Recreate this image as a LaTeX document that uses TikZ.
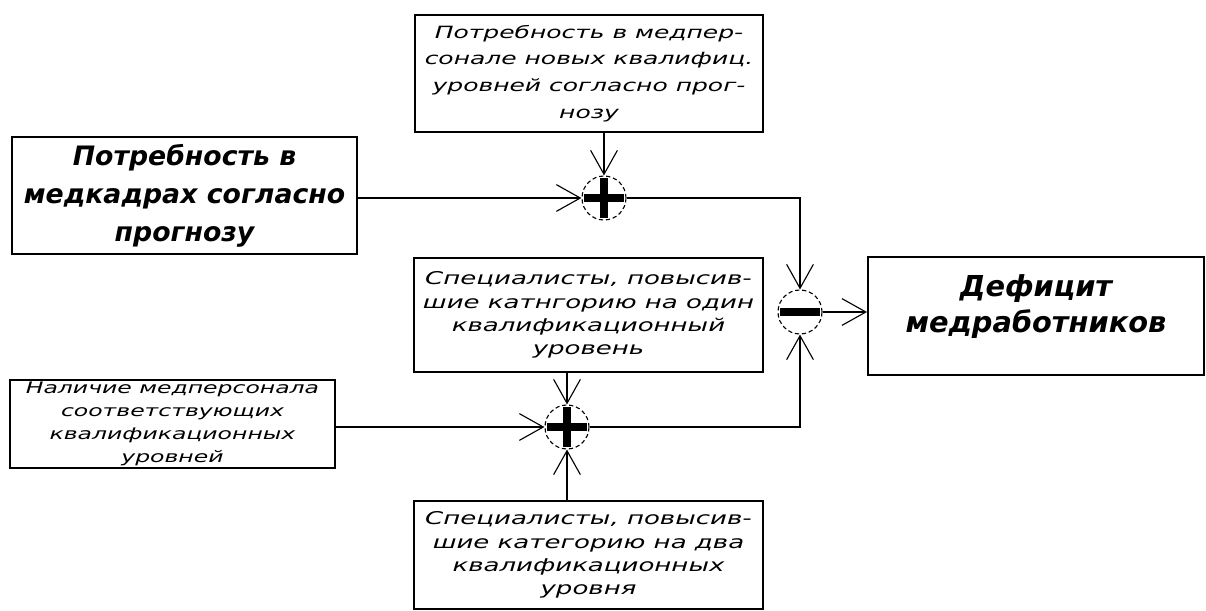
\documentclass[tikz,border=0pt]{standalone}
\usepackage{fontspec}
\setmainfont{DejaVu Sans}
\newfontfamily\boxfont[FakeStretch=1.48]{DejaVu Sans}
\usetikzlibrary{arrows.meta, calc}
\tikzset{
  myarr/.style  = {-{Straight Barb[length=17pt, width=19pt, line width=0.8pt]}, line width=1.2pt},
  %% Box presets
  box/.style    = {draw, line width=1.3pt, align=center, inner sep=0pt},
  smalltxt/.style = {font=\boxfont\itshape\fontsize{12.5}{16.5}\selectfont},
  availtxt/.style = {font=\boxfont\itshape\fontsize{11.3}{16.3}\selectfont},
  toptxt/.style   = {font=\boxfont\itshape\fontsize{12}{19}\selectfont},
  bigtxt/.style   = {font=\bfseries\itshape\fontsize{19}{27}\selectfont},
  restxt/.style   = {font=\bfseries\itshape\fontsize{20.5}{26}\selectfont},
  %% Summing junctions
  sumnode/.style = {circle, draw, densely dashed, line width=0.8pt, minimum size=1.1cm, inner sep=0pt},
  signbar/.style = {line width=5.8pt, shorten >=1.5pt, shorten <=1.5pt},
}

\begin{document}
\begin{tikzpicture}[x=0.025cm, y=-0.025cm]
\useasboundingbox (0,0) rectangle (1206,611);

%% ---- Forecast needs ----
\node[box, toptxt, minimum width=8.7cm, minimum height=2.925cm] (need1) at (589, 73.5) {
  Потребность в медпер-\\
  сонале новых квалифиц.\\
  уровней согласно прог-\\
  нозу
};
\node[box, bigtxt, minimum width=8.625cm, minimum height=2.925cm] (need) at (184.5, 195.5) {
  Потребность в\\
  медкадрах согласно\\
  прогнозу
};

%% ---- Available staff and upgrades ----
\node[box, smalltxt, minimum width=8.725cm, minimum height=2.85cm] (spec1) at (588.5, 315) {
  Специалисты, повысив-\\
  шие катнгорию на один\\
  квалификационный\\
  уровень
};
\node[box, availtxt, minimum width=8.125cm, minimum height=2.2cm] (avail) at (172.5, 424) {
  Наличие медперсонала\\
  соответствующих\\
  квалификационных\\
  уровней
};
\node[box, smalltxt, minimum width=8.725cm, minimum height=2.7cm] (spec2) at (588.5, 555) {
  Специалисты, повысив-\\
  шие категорию на два\\
  квалификационных\\
  уровня
};

%% ---- Result ----
\node[box, restxt, minimum width=8.4cm, minimum height=2.95cm] (result) at (1036, 316) {
  Дефицит\\
  медработников\\[-8pt]
  \mbox{}
};

%% ---- Junctions ----
\node[sumnode] (plusA) at (604, 198) {};
\node[sumnode] (plusB) at (567, 427) {};
\node[sumnode] (minus) at (800, 312) {};

\draw[signbar] (plusA.north) -- (plusA.south);
\draw[signbar] (plusA.west) -- (plusA.east);
\draw[signbar] (plusB.north) -- (plusB.south);
\draw[signbar] (plusB.west) -- (plusB.east);
\draw[signbar] (minus.west) -- (minus.east);

%% ---- Connectors ----
\draw[myarr] (need.east |- plusA) -- (plusA.west);
\draw[myarr] (need1.south -| plusA) -- (plusA.north);
\draw[myarr] (plusA.east) -- (plusA.east -| minus) -- (minus.north);

\draw[myarr] (avail.east |- plusB) -- (plusB.west);
\draw[myarr] (spec1.south -| plusB) -- (plusB.north);
\draw[myarr] (spec2.north -| plusB) -- (plusB.south);
\draw[myarr] (plusB.east) -- (plusB.east -| minus) -- (minus.south);

\draw[myarr] (minus.east) -- (result.west |- minus);

\end{tikzpicture}
\end{document}
